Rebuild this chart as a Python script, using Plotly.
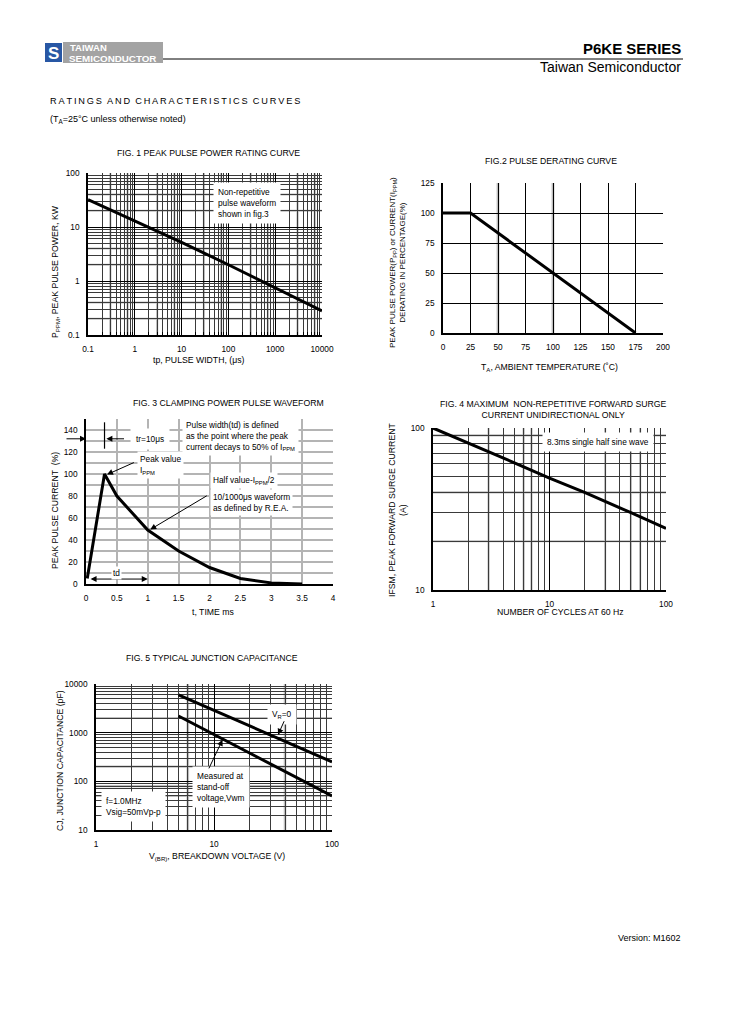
import plotly.graph_objects as go

# page is 729x1032; the browser body keeps an 8px margin, so the figure is
# sized to fit inside it and every page coordinate is shifted by that margin
PAGE_MARGIN = 8
W, H = 729 - 2 * PAGE_MARGIN, 1032 - 2 * PAGE_MARGIN
FONT = "Liberation Sans, Arial, sans-serif"

# ---------------- data ----------------
fig1_tp = [0.1, 1, 10, 100, 1000, 10000]
fig1_ppk = [32, 13, 5.2, 2.0, 0.75, 0.28]
fig1_xticks = [0.1, 1, 10, 100, 1000, 10000]
fig1_xtext = ["0.1", "1", "10", "100", "1000", "10000"]
fig1_yticks = [0.1, 1, 10, 100]
fig1_ytext = ["0.1", "1", "10", "100"]

fig2_temp = [0, 25, 175]
fig2_pct = [100, 100, 0]
fig2_xticks = [0, 25, 50, 75, 100, 125, 150, 175, 200]
fig2_yticks = [0, 25, 50, 75, 100, 125]

fig3_t = [0.02, 0.3, 0.5, 1.0, 1.5, 2.0, 2.5, 3.0, 3.5]
fig3_i = [5, 100, 80, 49, 30, 15, 5, 1, 0]
fig3_xticks = [0, 0.5, 1, 1.5, 2, 2.5, 3, 3.5, 4]
fig3_xtext = ["0", "0.5", "1", "1.5", "2", "2.5", "3", "3.5", "4"]
fig3_yticks = [0, 20, 40, 60, 80, 100, 120, 140]

fig4_cycles = [1, 2, 5, 10, 20, 50, 100]
fig4_ifsm = [100, 81, 61, 49, 40, 30, 24]
fig4_xticks = [1, 10, 100]
fig4_yticks = [10, 100]

fig5_vbr = [5, 100]
fig5_cj_vr0 = [6000, 250]
fig5_cj_vwm = [2200, 50]
fig5_xticks = [1, 10, 100]
fig5_yticks = [10, 100, 1000, 10000]


def px_x(p):
    return (p - PAGE_MARGIN) / W


def px_y(p):
    return 1 - (p - PAGE_MARGIN) / H


def dom_x(a, b):
    return [px_x(a), px_x(b)]


def dom_y(top, bottom):
    return [px_y(bottom), px_y(top)]


def minor_vals(lo_exp, hi_exp):
    return [k * 10 ** e for e in range(lo_exp, hi_exp) for k in range(2, 10)]


TICKFONT = dict(family=FONT, size=8.3, color="black")


def base_axis(**kw):
    d = dict(showline=True, linecolor="black", linewidth=1.6, ticks="",
             tickfont=TICKFONT, showgrid=True, gridcolor="black", gridwidth=0.8,
             zeroline=False, ticklabelstandoff=5, fixedrange=True, automargin=False)
    d.update(kw)
    return d


fig = go.Figure()
LINE = dict(color="black", width=3)

fig.add_trace(go.Scatter(x=fig1_tp, y=fig1_ppk, mode="lines", line=LINE,
                         xaxis="x", yaxis="y", showlegend=False))
fig.add_trace(go.Scatter(x=fig2_temp, y=fig2_pct, mode="lines", line=LINE,
                         xaxis="x2", yaxis="y2", showlegend=False))
fig.add_trace(go.Scatter(x=fig3_t, y=fig3_i, mode="lines", line=LINE,
                         xaxis="x3", yaxis="y3", showlegend=False))
fig.add_trace(go.Scatter(x=fig4_cycles, y=fig4_ifsm, mode="lines", line=LINE,
                         xaxis="x4", yaxis="y4", showlegend=False))
fig.add_trace(go.Scatter(x=fig5_vbr, y=fig5_cj_vr0, mode="lines", line=LINE,
                         xaxis="x5", yaxis="y5", showlegend=False))
fig.add_trace(go.Scatter(x=fig5_vbr, y=fig5_cj_vwm, mode="lines", line=LINE,
                         xaxis="x5", yaxis="y5", showlegend=False))

MINOR = dict(showgrid=True, gridcolor="#3a3a3a", gridwidth=0.55)

layout = dict(
    template="none",
    width=W, height=H, autosize=False, margin=dict(l=0, r=0, t=0, b=0, pad=0),
    paper_bgcolor="white", plot_bgcolor="white", showlegend=False,
    font=dict(family=FONT, color="black"),
    # fig1
    xaxis=base_axis(type="log", range=[-1, 4], domain=dom_x(88, 322), anchor="y",
                    tickmode="array", tickvals=fig1_xticks, ticktext=fig1_xtext,
                    minor=dict(tickvals=minor_vals(-1, 4), ticks="inside", ticklen=3,
                               tickcolor="black", **MINOR)),
    yaxis=base_axis(type="log", range=[-1, 2], domain=dom_y(173, 335), anchor="x",
                    tickmode="array", tickvals=fig1_yticks, ticktext=fig1_ytext,
                    minor=dict(tickvals=minor_vals(-1, 2), **MINOR)),
    # fig2
    xaxis2=base_axis(range=[0, 200], domain=dom_x(443, 663), anchor="y2",
                     tickmode="array", tickvals=fig2_xticks),
    yaxis2=base_axis(range=[0, 125], domain=dom_y(183, 333), anchor="x2",
                     tickmode="array", tickvals=fig2_yticks),
    # fig3
    xaxis3=base_axis(range=[0, 4], domain=dom_x(86, 333), anchor="y3",
                     tickmode="array", tickvals=fig3_xticks, ticktext=fig3_xtext,
                     gridcolor="#b4b4b4", gridwidth=1.5),
    yaxis3=base_axis(range=[0, 150], domain=dom_y(419, 584), anchor="x3",
                     tickmode="array", tickvals=fig3_yticks,
                     gridcolor="#b4b4b4", gridwidth=1.5,
                     minor=dict(dtick=10, showgrid=True, gridcolor="#b4b4b4", gridwidth=1.5)),
    # fig4
    xaxis4=base_axis(type="log", range=[0, 2], domain=dom_x(433, 666), anchor="y4",
                     tickmode="array", tickvals=fig4_xticks, ticktext=["1", "10", "100"],
                     minor=dict(tickvals=minor_vals(0, 2), **MINOR)),
    yaxis4=base_axis(type="log", range=[1, 2], domain=dom_y(428, 590), anchor="x4",
                     tickmode="array", tickvals=fig4_yticks, ticktext=["10", "100"],
                     minor=dict(tickvals=minor_vals(1, 2), **MINOR)),
    # fig5
    xaxis5=base_axis(type="log", range=[0, 2], domain=dom_x(96, 332), anchor="y5",
                     tickmode="array", tickvals=fig5_xticks, ticktext=["1", "10", "100"],
                     minor=dict(tickvals=minor_vals(0, 2), **MINOR)),
    yaxis5=base_axis(type="log", range=[1, 4], domain=dom_y(684, 830), anchor="x5",
                     tickmode="array", tickvals=fig5_yticks,
                     ticktext=["10", "100", "1000", "10000"],
                     minor=dict(tickvals=minor_vals(1, 4), **MINOR)),
)
fig.update_layout(**layout)

shapes = []
GREY = "#bdbdbd"


def vgrey(xref, yref, xv, width=2.2):
    shapes.append(dict(type="line", xref=xref, yref=yref + " domain", x0=xv, x1=xv,
                       y0=0, y1=1, line=dict(color=GREY, width=width), layer="below"))


def hgrey(xref, yref, yv, width=2.2):
    shapes.append(dict(type="line", xref=xref + " domain", yref=yref, x0=0, x1=1,
                       y0=yv, y1=yv, line=dict(color=GREY, width=width), layer="below"))


# grey texture gridlines (as in the scanned datasheet)
for v in [0.3, 0.7, 3, 7, 30, 70, 300, 700, 3000, 7000]:
    vgrey("x", "y", v)
for v in [0.2, 0.4, 2, 4, 20, 40]:
    hgrey("x", "y", v)
for v in [50, 100]:
    vgrey("x2", "y2", v, 2.8)
for v in [3, 6, 7, 30, 50, 60]:
    vgrey("x4", "y4", v)
for v in [20, 40, 90]:
    hgrey("x4", "y4", v)
for v in [6, 40]:
    vgrey("x5", "y5", v, 2.6)
for v in [50, 80, 200, 2000]:
    hgrey("x5", "y5", v)

# fig3 tr marker vertical line
shapes.append(dict(type="line", xref="x3", yref="y3", x0=0.3, x1=0.3, y0=123, y1=147,
                   line=dict(color="black", width=1.2)))

# header: logo and rule
shapes.append(dict(type="rect", xref="paper", yref="paper", x0=px_x(45), x1=px_x(62),
                   y0=px_y(62), y1=px_y(43), fillcolor="#2857a4", line=dict(width=0)))
shapes.append(dict(type="rect", xref="paper", yref="paper", x0=px_x(63), x1=px_x(163),
                   y0=px_y(63), y1=px_y(42), fillcolor="#a3a3a3", line=dict(width=0)))
shapes.append(dict(type="line", xref="paper", yref="paper", x0=px_x(163), x1=px_x(683),
                   y0=px_y(59), y1=px_y(59), line=dict(color="black", width=1)))
fig.update_layout(shapes=shapes)

ann = []


def ptext(text, x, y, size=8.7, xanchor="center", yanchor="middle", angle=0,
          bold=False, color="black", align="center"):
    if bold:
        text = "<b>" + text + "</b>"
    ann.append(dict(text=text, x=px_x(x), y=px_y(y), xref="paper", yref="paper",
                    xanchor=xanchor, yanchor=yanchor, showarrow=False, textangle=angle,
                    align=align, font=dict(family=FONT, size=size, color=color)))


def dtext(text, xr, yr, x, y, xanchor="left", bg="white", pad=2, size=8.3, align="left"):
    ann.append(dict(text=text, x=x, y=y, xref=xr, yref=yr, xanchor=xanchor,
                    yanchor="middle", showarrow=False, align=align, bgcolor=bg,
                    borderpad=pad, font=dict(family=FONT, size=size, color="black")))


def arrow(xr, yr, x, y, ax, ay, side="end"):
    ann.append(dict(text="", x=x, y=y, xref=xr, yref=yr, ax=ax, ay=ay,
                    axref=xr, ayref=yr, showarrow=True, arrowhead=2, arrowsize=1.2,
                    arrowwidth=1, arrowcolor="black", arrowside=side))


def spaced(s):
    return "&nbsp;&nbsp;".join("\u2009".join(word) for word in s.split(" "))


# header texts
ptext("S", 53.5, 53, size=17, bold=True, color="white")
ptext("TAIWAN", 68, 47.5, size=9.5, xanchor="left", bold=True, color="white")
ptext("SEMICONDUCTOR", 67, 58, size=9.8, xanchor="left", bold=True, color="white")
ptext("P6KE SERIES", 683, 48, size=15, xanchor="right", bold=True)
ptext("Taiwan Semiconductor", 683, 67, size=14, xanchor="right")
ptext(spaced("RATINGS AND CHARACTERISTICS CURVES"), 48, 101, size=9.2, xanchor="left")
ptext("(T<sub>A</sub>=25°C unless otherwise noted)", 48, 119, size=9, xanchor="left")
ptext("Version: M1602", 683, 938, size=9, xanchor="right")

# fig1 texts
ptext("FIG. 1 PEAK PULSE POWER RATING CURVE", 208, 153)
ptext("P<sub>PPM</sub>, PEAK PULSE POWER, KW", 55, 272, angle=-90)
ptext("tp, PULSE WIDTH, (μs)", 199, 360)
dtext("Non-repetitive<br>pulse waveform<br>shown in fig.3", "x", "y", 1.67, 1.44, pad=4)

# fig2 texts
ptext("FIG.2 PULSE DERATING CURVE", 551, 161)
ptext("PEAK PULSE POWER(P<sub>PP</sub>) or CURRENT(I<sub>PPM</sub>)<br>DERATING IN PERCENTAGE(%)",
      397, 263, size=8, angle=-90)
ptext("T<sub>A</sub>, AMBIENT TEMPERATURE (˚C)", 549, 367)

# fig3 texts
ptext("FIG. 3 CLAMPING POWER PULSE WAVEFORM", 228, 403)
ptext("PEAK PULSE CURRENT  (%)", 55, 511, angle=-90)
ptext("t, TIME ms", 213, 612)
arrow("x3", "y3", 0, 132, -0.34, 132)
arrow("x3", "y3", 0.33, 132, 0.64, 132)
dtext("tr=10μs", "x3", "y3", 1.04, 132, xanchor="center", pad=5)
dtext("Pulse width(td) is defined<br>as the point where the peak<br>current decays to 50% of I<sub>PPM</sub>",
      "x3", "y3", 1.56, 134.5, pad=3)
dtext("Peak value<br>I<sub>PPM</sub>", "x3", "y3", 0.82, 108, pad=2)
arrow("x3", "y3", 0.34, 99.5, 0.8, 111)
dtext("Half value-I<sub>PPM</sub>/2", "x3", "y3", 2.01, 94, pad=2)
dtext("10/1000μs waveform<br>as defined by R.E.A.", "x3", "y3", 2.01, 74, pad=2)
arrow("x3", "y3", 1.04, 49.5, 1.98, 81)
arrow("x3", "y3", 1.0, 4.5, 0.05, 4.5, side="end+start")
dtext("td", "x3", "y3", 0.5, 10, xanchor="center", pad=1)

# fig4 texts
ptext("FIG. 4 MAXIMUM  NON-REPETITIVE FORWARD SURGE<br>CURRENT UNIDIRECTIONAL ONLY", 553, 410)
ptext("IFSM, PEAK FORWARD SURGE CURRENT<br>(A)", 397, 510, angle=-90)
ptext("NUMBER OF CYCLES AT 60 Hz", 560, 612)
dtext("8.3ms single half sine wave", "x4", "y4", 1.42, 1.912, xanchor="center", pad=4)

# fig5 texts
ptext("FIG. 5 TYPICAL JUNCTION CAPACITANCE", 212, 658)
ptext("CJ, JUNCTION CAPACITANCE (pF)", 60, 761, angle=-90)
ptext("V<sub>(BR)</sub>, BREAKDOWN VOLTAGE (V)", 217, 856)
dtext("V<sub>R</sub>=0", "x5", "y5", 1.58, 3.38, xanchor="center", pad=4)
arrow("x5", "y5", 1.543, 2.957, 1.6, 3.266)
dtext("Measured at<br>stand-off<br>voltage,Vwm", "x5", "y5", 0.81, 1.89, pad=4)
arrow("x5", "y5", 1.072, 2.854, 0.951, 2.236)
dtext("f=1.0MHz<br>Vsig=50mVp-p", "x5", "y5", 0.045, 1.48, pad=4)

fig.update_layout(annotations=ann)
fig.write_html("out.html", config={"displayModeBar": False, "responsive": False})
